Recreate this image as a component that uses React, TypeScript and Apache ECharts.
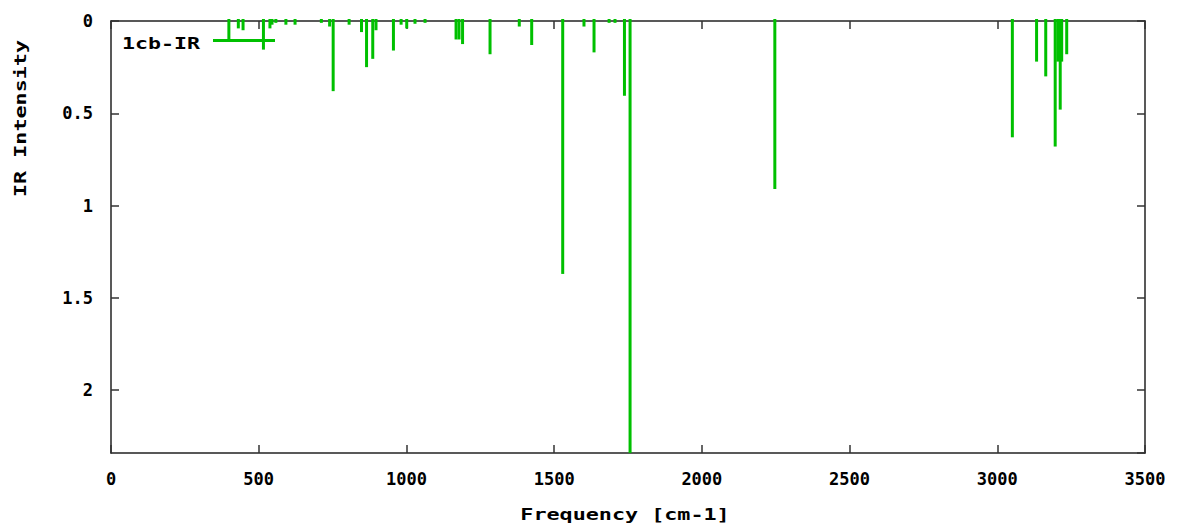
import React, { useEffect, useRef } from "react";
import * as echarts from "echarts";

// Frequencies (cm-1) and IR intensities
const frequencies = [
  399, 431, 447, 516, 538, 545, 558, 592, 623, 712, 740, 752, 806, 848, 865, 886, 897,
  956, 982, 1001, 1029, 1063, 1168, 1178, 1190, 1283, 1382, 1424, 1529, 1601, 1635,
  1686, 1706, 1738, 1757, 2247, 3051, 3133, 3164, 3196, 3205, 3213, 3218, 3235,
];
const intensities = [
  0.1, 0.04, 0.05, 0.155, 0.04, 0.02, 0.01, 0.02, 0.02, 0.01, 0.03, 0.38, 0.02, 0.06, 0.25, 0.205, 0.05,
  0.16, 0.02, 0.04, 0.015, 0.01, 0.1, 0.1, 0.125, 0.18, 0.03, 0.13, 1.37, 0.03, 0.17,
  0.01, 0.01, 0.405, 2.34, 0.91, 0.63, 0.22, 0.3, 0.68, 0.22, 0.48, 0.22, 0.18,
];
const seriesName = "1cb-IR";
const xAxisTitle = "Frequency [cm-1]";
const yAxisTitle = "IR Intensity";

const GREEN = "#00c000";
const FONT = '"DejaVu Sans Mono", monospace';

export default function App() {
  const ref = useRef<HTMLDivElement>(null);
  useEffect(() => {
    if (!ref.current) return;
    const chart = echarts.init(ref.current, null, { renderer: "svg" });
    const data = frequencies.map((f, i) => [f, intensities[i]]);
    const axisLine = { show: true, onZero: false, lineStyle: { color: "#222", width: 1.5 } };
    const axisTick = { show: true, inside: true, length: 8, lineStyle: { color: "#333", width: 1.5 } };
    const label = { color: "#000", fontFamily: FONT, fontWeight: "bold" as const, fontSize: 17 };
    chart.setOption({
      animation: false,
      backgroundColor: "#fff",
      grid: { left: 111, right: 34, top: 21, bottom: 74, containLabel: false },
      xAxis: [
        {
          type: "value", min: 0, max: 3500, interval: 500, position: "bottom",
          axisLine, axisTick, splitLine: { show: false },
          axisLabel: { ...label, margin: 17, formatter: (v: number) => String(v) },
        },
        {
          type: "value", min: 0, max: 3500, interval: 500, position: "top",
          axisLine, axisTick, splitLine: { show: false }, axisLabel: { show: false },
        },
      ],
      yAxis: [
        {
          type: "value", min: 0, max: 2.34, interval: 0.5, inverse: true, position: "left",
          axisLine, axisTick, splitLine: { show: false },
          axisLabel: { ...label, margin: 18, showMaxLabel: false, formatter: (v: number) => String(v) },
        },
        {
          type: "value", min: 0, max: 2.34, interval: 0.5, inverse: true, position: "right",
          axisLine, axisTick, splitLine: { show: false }, axisLabel: { show: false },
        },
      ],
      series: [
        {
          name: seriesName,
          type: "custom",
          xAxisIndex: 0,
          yAxisIndex: 0,
          data,
          encode: { x: 0, y: 1 },
          renderItem: (params: any, api: any) => {
            const x = api.value(0);
            const y = api.value(1);
            const p0 = api.coord([x, 0]);
            const p1 = api.coord([x, y]);
            return {
              type: "rect",
              shape: { x: p0[0] - 1.5, y: p0[1] - 2, width: 3, height: p1[1] - p0[1] + 2 },
              style: { fill: GREEN },
            };
          },
          z: 3,
        },
      ],
      graphic: [
        {
          type: "text", x: 20.5, y: 118.5, rotation: Math.PI / 2, scaleX: 1.36,
          style: { text: yAxisTitle, font: `bold 16px ${FONT}`, fill: "#000", align: "center", verticalAlign: "middle" },
        },
        {
          type: "text", x: 625, y: 515, scaleX: 1.36,
          style: { text: xAxisTitle, font: `bold 16px ${FONT}`, fill: "#000", align: "center", verticalAlign: "middle" },
        },
        {
          type: "text", x: 122, y: 43.5, scaleX: 1.35,
          style: { text: seriesName, font: `bold 16px ${FONT}`, fill: "#000", align: "left", verticalAlign: "middle" },
        },
        {
          type: "line", shape: { x1: 213, y1: 40.5, x2: 275, y2: 40.5 },
          style: { stroke: GREEN, lineWidth: 3 },
        },
      ],
    });
    return () => chart.dispose();
  }, []);
  return (
    <div
      ref={ref}
      style={{ position: "absolute", left: 0, top: 0, width: 1179, height: 527 }}
    />
  );
}
